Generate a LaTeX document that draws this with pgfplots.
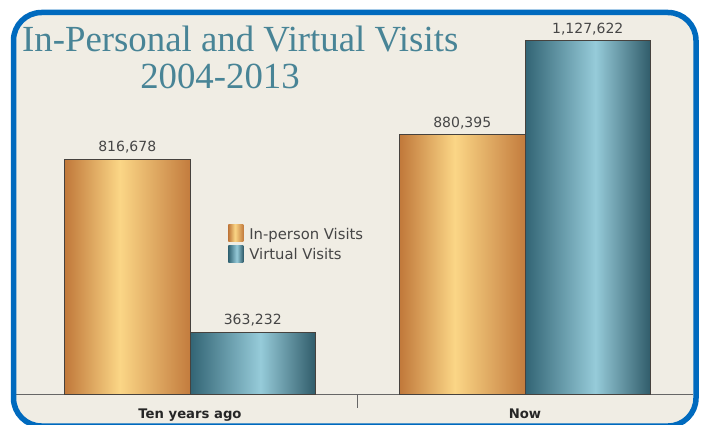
\documentclass[border=0pt]{standalone}
\usepackage{pgfplots}
\pgfplotsset{compat=1.18}
\usepackage{fontspec}
\setmainfont{Liberation Serif}
\newfontfamily\dejavu{DejaVu Sans}
\definecolor{bg}{RGB}{240,237,228}
\definecolor{framec}{RGB}{0,106,190}
\definecolor{titlec}{RGB}{72,132,150}
\definecolor{obL}{RGB}{192,120,58}
\definecolor{obM}{RGB}{251,214,134}
\definecolor{obR}{RGB}{195,124,62}
\definecolor{tbL}{RGB}{50,100,116}
\definecolor{tbM}{RGB}{150,203,217}
\definecolor{tbR}{RGB}{48,92,106}
\definecolor{labc}{RGB}{70,70,70}
\definecolor{barline}{RGB}{70,66,62}
\pgfdeclarehorizontalshading{orangebar}{100bp}{color(0bp)=(obL); color(25bp)=(obL); color(47bp)=(obM); color(75bp)=(obR); color(100bp)=(obR)}
\pgfdeclarehorizontalshading{tealbar}{100bp}{color(0bp)=(tbL); color(25bp)=(tbL); color(53bp)=(tbM); color(75bp)=(tbR); color(100bp)=(tbR)}
\begin{document}
\begin{tikzpicture}[x=1pt,y=1pt]
\path[use as bounding box] (0,0) rectangle (703,424);
\fill[white] (0,0) rectangle (703,424);
\fill[bg, rounded corners=28pt] (13.5,-2) rectangle (696,411.5);
\begin{axis}[
  at={(15pt,29.5pt)}, anchor=south west,
  width=678pt, height=374pt, scale only axis,
  xmin=-0.5224, xmax=1.5015, ymin=200000, ymax=1180000,
  clip=false,
  axis x line*=bottom, axis y line=none,
  axis line style={-, draw=gray!80!black, line width=0.8pt},
  bar width=125.5pt,
  xtick={0,1}, xticklabels={Ten years ago, Now},
  xticklabel style={font=\dejavu\bfseries\fontsize{13.2}{16}\selectfont, text=black!85, yshift=-11pt},
  major tick length=0pt,
  xtick align=outside,
  extra x ticks={0.5}, extra x tick labels={},
  extra x tick style={major tick length=13pt, tick style={draw=gray!80!black, line width=0.8pt}},
  ytick=\empty,
  nodes near coords, point meta=explicit symbolic,
  every node near coord/.append style={font=\dejavu\fontsize{14}{16}\selectfont, text=labc, yshift=2pt},
  legend style={at={(0.31,0.46)}, anchor=north west, draw=none, fill=none,
    font=\dejavu\fontsize{14.8}{17}\selectfont, text=labc, row sep=2pt,
    /tikz/every odd column/.append style={column sep=4pt}},
  legend cell align=left,
  legend image code/.code={\path[#1, draw=none] (0pt,-7pt) rectangle (15pt,10pt);},
  orange/.style={ybar, bar shift=-62.75pt, draw=barline, line width=0.8pt, shade, shading=orangebar,
    nodes near coords style={xshift=-62.75pt}},
  teal/.style={ybar, bar shift=62.75pt, draw=barline, line width=0.8pt, shade, shading=tealbar,
    nodes near coords style={xshift=62.75pt}},
]
\addplot[orange] table[x=x, y=y, meta=lab, row sep=\\] {x y lab\\ 0 816678 816,678\\};
\addplot[teal] table[x=x, y=y, meta=lab, row sep=\\] {x y lab\\ 0 363232 363,232\\};
\addplot[orange, forget plot] table[x=x, y=y, meta=lab, row sep=\\] {x y lab\\ 1 880395 880,395\\};
\addplot[teal, forget plot] table[x=x, y=y, meta=lab, row sep=\\] {x y lab\\ 1 1127622 1,127,622\\};
\legend{In-person Visits, Virtual Visits}
\end{axis}
\draw[framec, line width=5.5pt, rounded corners=28pt] (13.5,-2) rectangle (696,411.5);
\node[anchor=base west, text=titlec, font=\fontsize{36.8}{40}\selectfont, inner sep=0pt] at (22,372) {In-Personal and Virtual Visits};
\node[anchor=base, text=titlec, font=\fontsize{36.8}{40}\selectfont, inner sep=0pt] at (220,336) {2004-2013};
\end{tikzpicture}
\end{document}
